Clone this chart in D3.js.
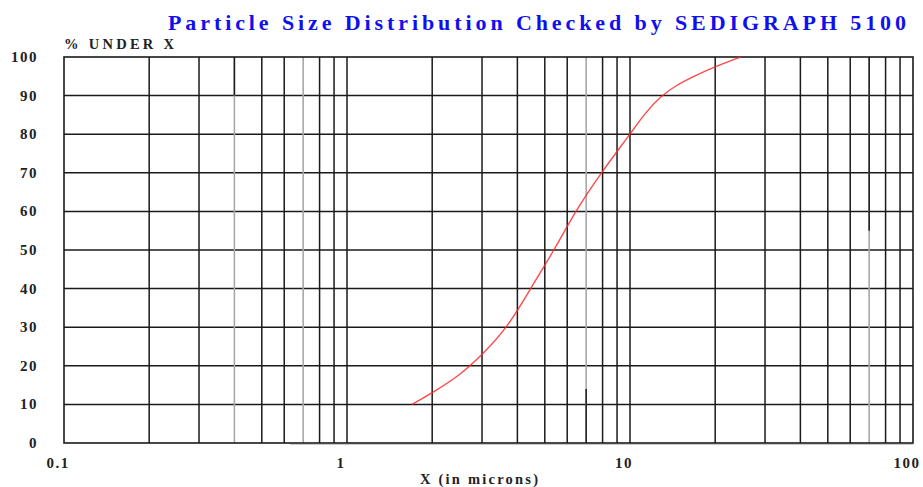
<!DOCTYPE html>
<html>
<head>
  <title>Particle Size Distribution</title>
  <script src="https://d3js.org/d3.v7.min.js"></script>
  <style type="text/css">
    body { margin: 0; background: #fff; }
    svg { font-family: "Liberation Serif", "Times New Roman", serif; font-weight: bold; }
    .grid line { stroke: #1a1a1a; stroke-width: 1.5; }
  </style>
</head>
<body>
<div id="chart"></div>
<script type="text/javascript">
  // particle size (microns) vs cumulative % under
  var sizes = [1.70, 2.0, 2.5, 3.0, 3.7, 4.45, 5.4, 6.4, 7.9, 10.0, 11.3, 12.9, 14.6, 16.7, 20.0, 24.6];
  var pctUnder = [10, 13, 17.5, 22.8, 30, 40, 50, 60, 70, 80, 85.5, 90, 92.7, 94.9, 97.5, 100];
  var yTicks = [0, 10, 20, 30, 40, 50, 60, 70, 80, 90, 100];
  var xTickLabels = [0.1, 1, 10, 100];
  // faded (grey) vertical grid lines in the scanned original
  var fadedLines = [0.4, 0.7, 7, 70];

  var width = 923, height = 487;
  var x = d3.scaleLog().domain([0.1, 100]).range([64, 913]);
  var y = d3.scaleLinear().domain([0, 100]).range([443, 57]);

  var svg = d3.select("#chart").append("svg")
    .attr("width", width)
    .attr("height", height);

  // minor log grid values 0.2..0.9, 2..9, 20..90
  var gridX = [];
  [0.1, 1, 10].forEach(function (dec) {
    for (var i = 2; i <= 9; i++) gridX.push(+(dec * i).toFixed(2));
  });
  gridX.push(1, 10);

  var grid = svg.append("g").attr("class", "grid");

  grid.selectAll(".h")
    .data(yTicks.slice(1, -1))
    .enter().append("line")
    .attr("x1", x(0.1)).attr("x2", x(100))
    .attr("y1", function (d) { return y(d); })
    .attr("y2", function (d) { return y(d); });

  grid.selectAll(".v")
    .data(gridX.filter(function (d) { return fadedLines.indexOf(d) < 0; }))
    .enter().append("line")
    .attr("x1", function (d) { return x(d); })
    .attr("x2", function (d) { return x(d); })
    .attr("y1", y(100)).attr("y2", y(0));

  // faded lines: grey part plus the dark stub where the scan kept it
  var dark = { 0.4: [100, 90], 0.7: null, 7: [14, 0], 70: [100, 55] };
  fadedLines.forEach(function (d) {
    svg.append("line")
      .attr("x1", x(d)).attr("x2", x(d))
      .attr("y1", y(100)).attr("y2", y(0))
      .style("stroke", "#a8a8a8").style("stroke-width", 1.6);
    if (dark[d]) {
      svg.append("line")
        .attr("x1", x(d)).attr("x2", x(d))
        .attr("y1", y(dark[d][0])).attr("y2", y(dark[d][1]))
        .style("stroke", "#1a1a1a").style("stroke-width", 1.5);
    }
  });

  // faint grey shadow under the bottom axis
  svg.append("line")
    .attr("x1", x(0.63)).attr("x2", x(100))
    .attr("y1", y(0) + 1.5).attr("y2", y(0) + 1.5)
    .style("stroke", "#c8c8c8").style("stroke-width", 1.2);

  // frame
  svg.append("rect")
    .attr("x", x(0.1)).attr("y", y(100))
    .attr("width", x(100) - x(0.1))
    .attr("height", y(0) - y(100))
    .style("fill", "none")
    .style("stroke", "#1a1a1a")
    .style("stroke-width", 1.6);

  // curve
  var line = d3.line()
    .x(function (d) { return x(d[0]); })
    .y(function (d) { return y(d[1]); })
    .curve(d3.curveBasis);

  svg.append("path")
    .datum(d3.zip(sizes, pctUnder))
    .attr("d", line)
    .style("fill", "none")
    .style("stroke", "#ff2a2a")
    .style("stroke-opacity", 0.85)
    .style("stroke-width", 1.4);

  // y tick labels
  svg.selectAll(".ylab")
    .data(yTicks)
    .enter().append("text")
    .attr("x", 38)
    .attr("y", function (d) { return y(d) + 5; })
    .attr("text-anchor", "end")
    .style("font-size", "15px")
    .style("letter-spacing", "1.5px")
    .style("fill", "#222")
    .text(function (d) { return d; });

  // x tick labels
  svg.selectAll(".xlab")
    .data(xTickLabels)
    .enter().append("text")
    .attr("x", function (d) { return x(d) - 6; })
    .attr("y", 468)
    .attr("text-anchor", "middle")
    .style("font-size", "15px")
    .style("letter-spacing", "1.5px")
    .style("fill", "#222")
    .text(function (d) { return d; });

  svg.append("text")
    .attr("x", 64).attr("y", 49)
    .attr("textLength", 110)
    .style("font-size", "14.5px")
    .style("fill", "#222")
    .text("% UNDER X");

  svg.append("text")
    .attr("x", 420).attr("y", 484)
    .attr("textLength", 118)
    .style("font-size", "14.5px")
    .style("fill", "#222")
    .text("X (in microns)");

  svg.append("text")
    .attr("x", 168).attr("y", 30)
    .attr("textLength", 738)
    .style("font-size", "22px")
    .style("fill", "#1010ee")
    .text("Particle Size Distribution Checked by SEDIGRAPH 5100");
</script>
</body>
</html>
